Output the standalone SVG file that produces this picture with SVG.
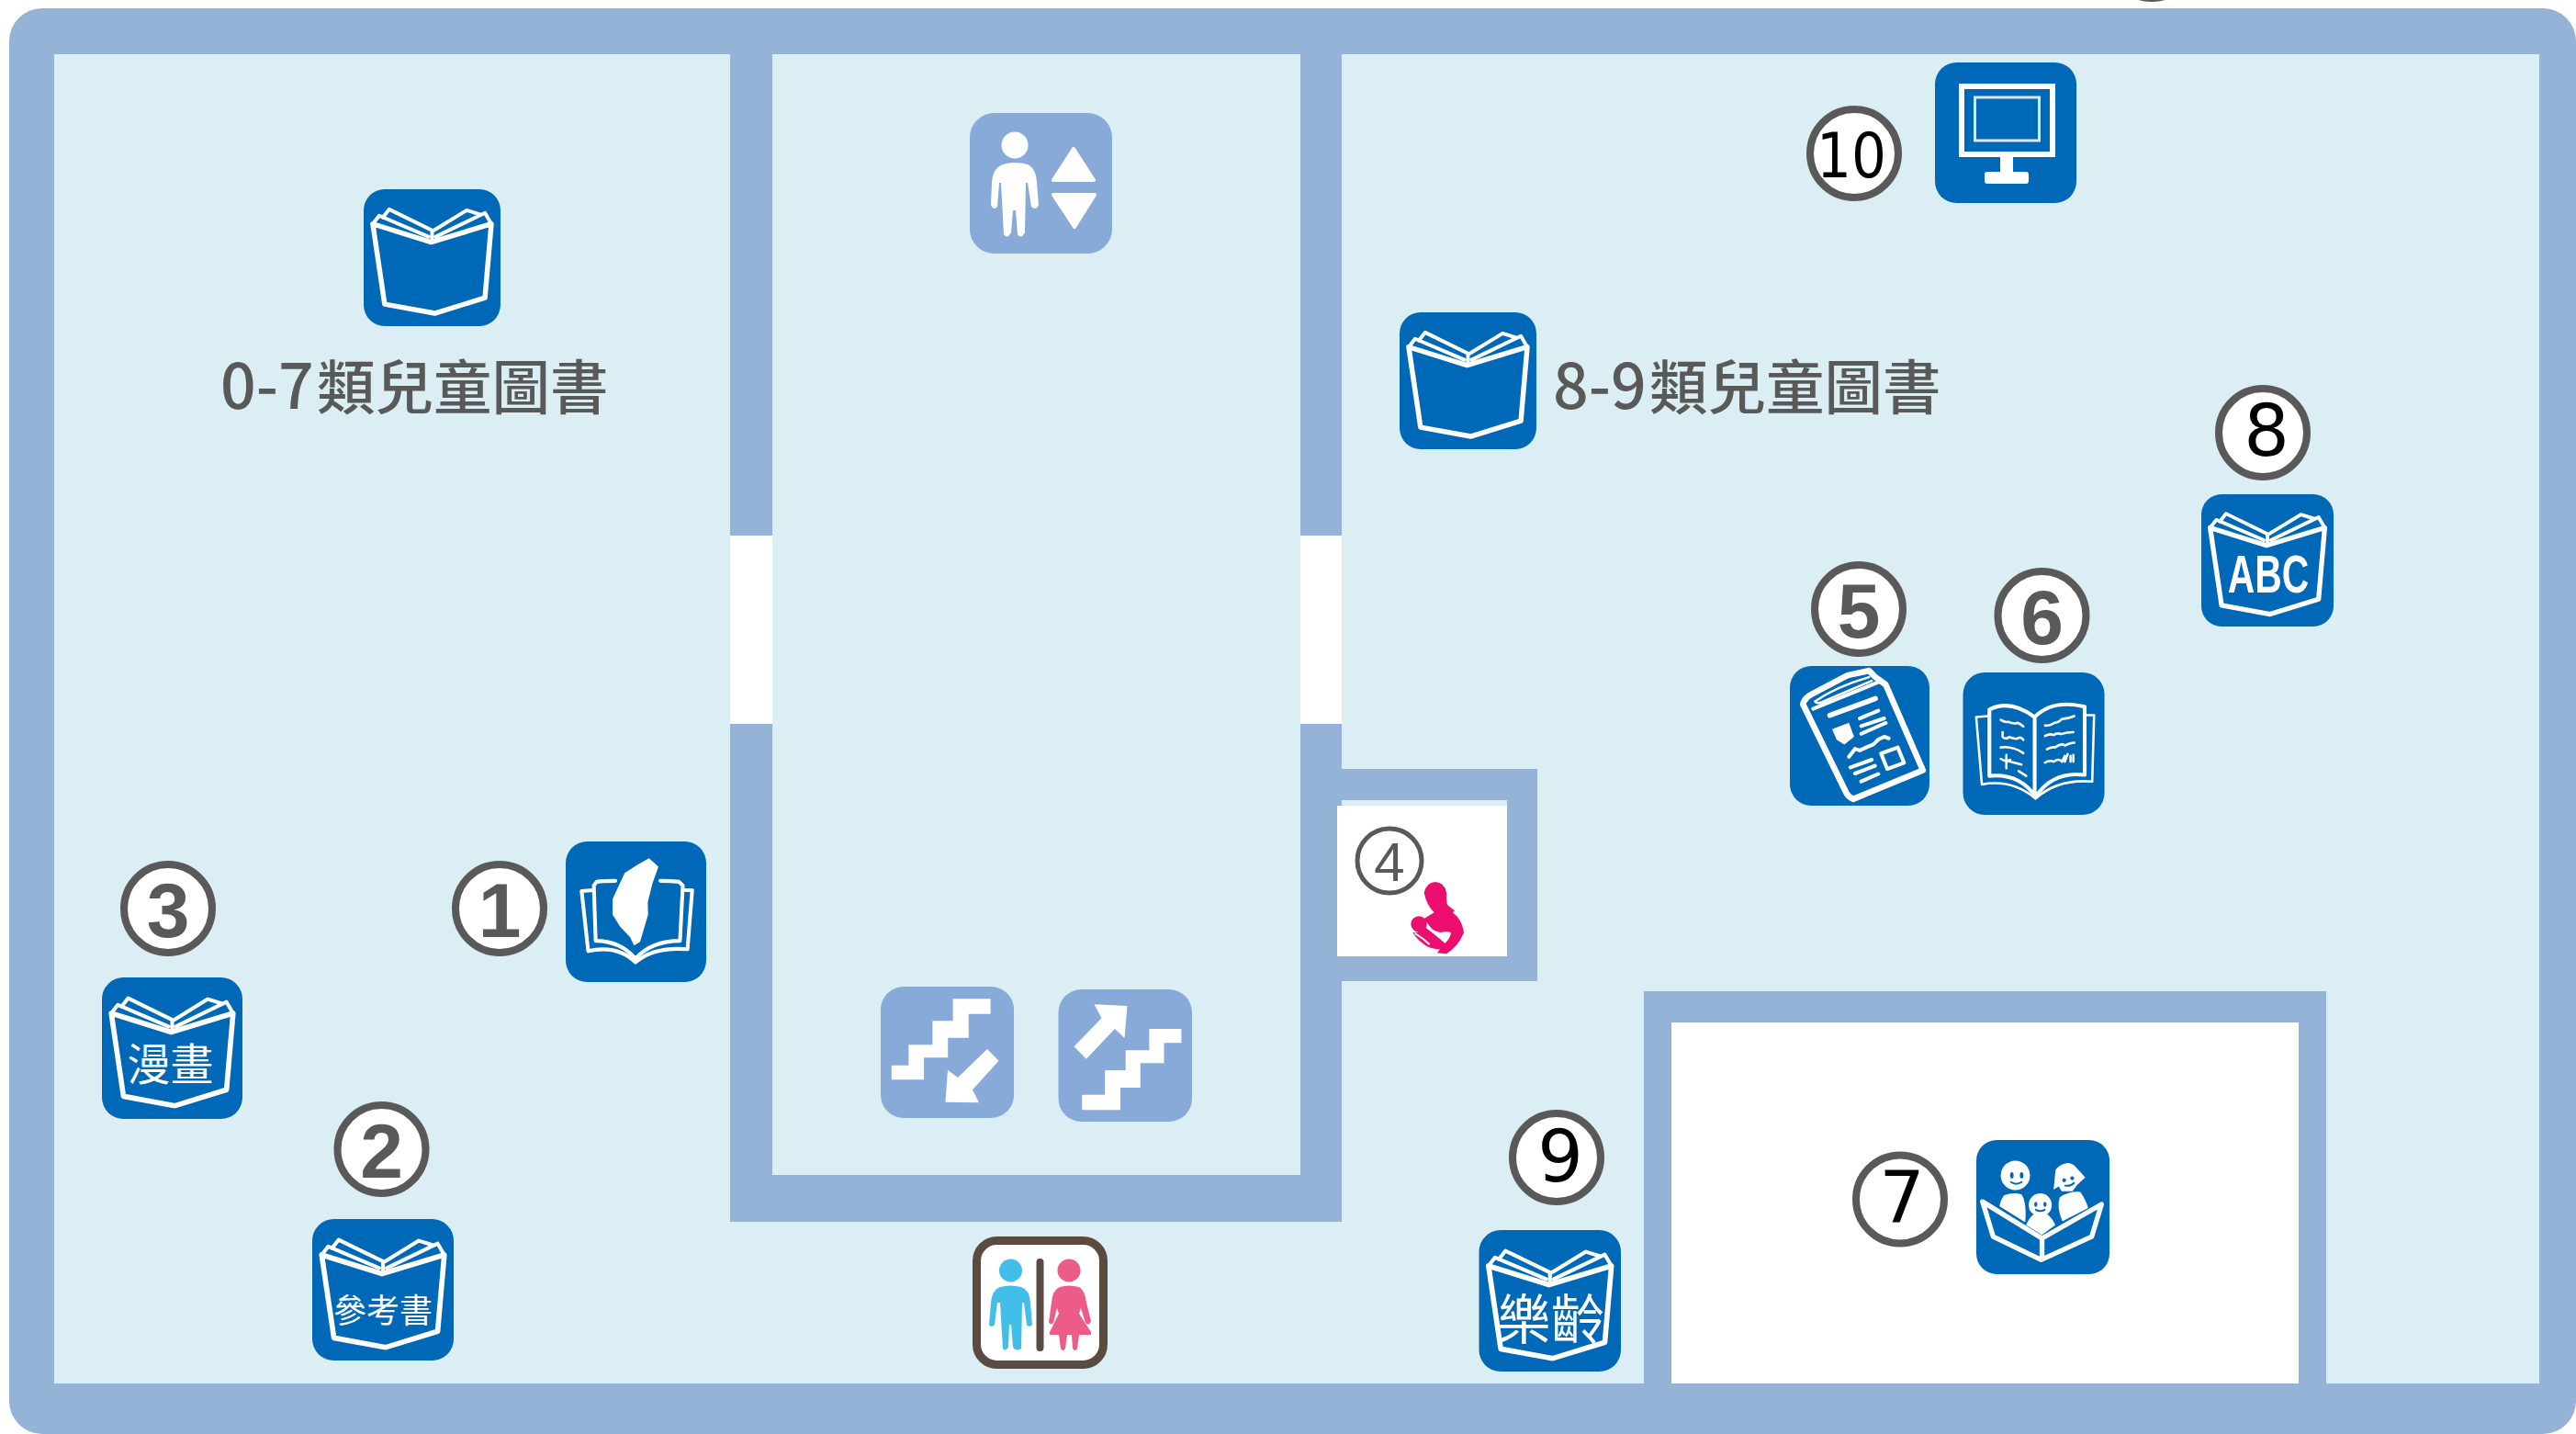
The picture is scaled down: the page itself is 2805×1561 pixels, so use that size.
<svg xmlns="http://www.w3.org/2000/svg" width="2805" height="1561" viewBox="0 0 2805 1561">
<style>
.wall{fill:#95B2D7}
.floor{fill:#DAEEF3}
.room{fill:#fff}
.tile{fill:#0069B7}
.tile2{fill:#88AAD9}
.line{fill:none;stroke:#fff;stroke-width:5.500;stroke-linejoin:round;stroke-linecap:round}
.mid{fill:none;stroke:#fff;stroke-width:4;stroke-linejoin:round;stroke-linecap:round}
.thin{fill:none;stroke:#fff;stroke-width:2.500;stroke-linejoin:round;stroke-linecap:round}
.solid{fill:#fff}
.eye{fill:#0069B7}
.smile{fill:none;stroke:#0069B7;stroke-width:2;stroke-linecap:round}
.ring{fill:#fff;stroke:#595959;stroke-width:8}
.dg{font-family:"Liberation Sans",Arial,sans-serif;font-weight:700;font-size:84px;fill:#595959;text-anchor:middle}
.dk{font-family:"DejaVu Sans",sans-serif;font-size:78px;fill:#000;text-anchor:middle}
.lab{font-family:"Noto Sans CJK TC","Noto Sans",sans-serif;font-size:63.500px;font-weight:500;fill:#595959}
.num{font-size:68px}
.bk{font-family:"Noto Sans CJK TC",sans-serif;fill:#fff;text-anchor:middle}
</style>
<defs>
<rect id="t" class="tile" width="150" height="150" rx="23"/>
<rect id="t2" class="tile2" width="150" height="150" rx="26"/>
<g id="book">
<path class="line" d="M10 38 L74 58 L140 38 L133 119 L78 136 L23 126 Z"/>
<path class="mid" d="M10 38 L17 29 L71 52 M21 31 L28 22 L75 45 L75 57 M140 38 L133 26 L79 52 M129 28 L113 23 L77 45"/>
</g>
</defs>

<rect class="wall" x="10" y="9" width="2795" height="1552" rx="36"/>
<rect class="floor" x="59" y="59" width="2706" height="1447"/>

<g id="walls">
<rect class="wall" x="795" y="59" width="46" height="1271"/>
<rect class="wall" x="1416" y="59" width="45" height="1271"/>
<rect class="wall" x="795" y="1279" width="666" height="51"/>
<rect class="room" x="795" y="583" width="46" height="205"/>
<rect class="room" x="1416" y="583" width="45" height="205"/>
<rect class="wall" x="1461" y="837" width="213" height="231"/>
<rect class="floor" x="1461" y="871" width="180" height="6"/>
<rect class="room" x="1456" y="877" width="185" height="164"/>
<rect class="wall" x="1790" y="1079" width="743" height="427"/>
<rect class="room" x="1820" y="1113" width="683" height="393"/>
</g>
<ellipse cx="2343" cy="-50" rx="48" ry="48" class="ring"/>

<g id="node-0-7">
<g transform="translate(396 206) scale(.993)"><use href="#t"/><use href="#book"/></g>
<text class="lab" x="240" y="445"><tspan class="num">0-7</tspan><tspan x="345">類兒童圖書</tspan></text>
</g>
<g id="node-8-9">
<g transform="translate(1524 340) scale(.993)"><use href="#t"/><use href="#book"/></g>
<text class="lab" x="1691" y="445"><tspan class="num">8-9</tspan><tspan x="1796">類兒童圖書</tspan></text>
</g>

<g id="node-elevator" transform="translate(1056 123)">
<use href="#t2" transform="scale(1.033 1.02)"/>
<circle class="solid" cx="49" cy="35" r="14.500"/>
<path class="solid" d="M36 56 Q49 52 63 56 Q72 60 73 76 L75 100 Q72 107 67 102 L63 76 L61 76 L60 130 Q56 138 52 132 L50 106 L47 106 L45 130 Q41 138 37 132 L34 76 L32 76 L30 102 Q26 107 23 100 L24 76 Q25 60 36 56Z"/>
<path class="solid" stroke="#fff" stroke-width="4" stroke-linejoin="round" d="M113 39 L91 73 L135 73 Z M91 89 L136 89 L114 124 Z"/>
</g>

<g id="node-stairs-down" transform="translate(959 1074)">
<use href="#t2" transform="scale(.967 .953)"/>
<path class="solid" d="M78.600 13.300H119.600V29.700H95.700V55.700H73.200V77.300H47.100V101.300H11.800V85.700H30.400V63.300H56.400V37.300H78.600Z"/>
<path class="solid" d="M70.400 125.700L107 126.300L100 112.300L128.600 80.700L116 68L84 99L73 90.700Z"/>
</g>
<g id="node-stairs-up" transform="translate(1152.500 1077)">
<use href="#t2" transform="scale(.97 .96)"/>
<path class="solid" d="M98.900 43H133.900V58.300H115V80.300H89.300V107H67.500V131.300H25.700V114.700H50.700V88H73.200V66.300H98.900Z"/>
<path class="solid" d="M75 18L39 16.300L47 31.300L17 62.300L30.400 75.700L61.400 43L72 53Z"/>
</g>

<g id="node-toilet" transform="translate(1059 1346)">
<rect x="4.500" y="4.500" width="138" height="135" rx="22" fill="#fff" stroke="#5B4A40" stroke-width="9"/>
<rect x="69.500" y="24" width="8" height="101" rx="4" fill="#5B4A40"/>
<g fill="#41BFE8"><circle cx="41.500" cy="37" r="12.500"/>
<path d="M30 55Q41 52 53 55Q62 58 63 72L65 96Q62 100 59 96L56 72L54 72L53 122Q47 126 44 120L42 96L40 96L39 120Q36 126 33 122L30 72L27 72L24 96Q20 100 18 96L20 72Q21 58 30 55Z"/></g>
<g fill="#EB5C87"><circle cx="105" cy="37" r="12.500"/>
<path d="M95 55Q105 52 116 55Q122 58 124 72L129 92Q127 98 123 94L118 78L116 84L129 104L129 107L116 107L114 122Q112 126 109 122L108 107L103 107L101 122Q98 126 96 122L94 107L84 107L84 104L94 84L92 78L88 94Q85 97 83 93L86 72Q87 58 95 55Z"/></g>
</g>

<g id="node-1">
<circle class="ring" cx="544" cy="989" r="48"/>
<text class="dg" x="544" y="1020">1</text>
<g transform="translate(616 916) scale(1.02)"><use href="#t"/>
<path class="mid" d="M53 42 Q40 42 33 43 L30 47 L32 106 Q58 106 74.500 125 Q92 106 122 106 L125 47 L121 43 Q112 42 101 42"/>
<path class="mid" stroke-width="3" d="M29 52 L17 53 L24 117 Q55 110 74.500 129 Q94 112 130 115 L135 52 L125 52"/>
<path class="solid" d="M89 18L99 27L92.500 45L87.600 65L88 78L79.400 107L73 111L68.600 102L58 91L50 78L50 61.500L63 33.700L78 24Z"/>
</g>
</g>

<g id="node-2">
<circle class="ring" cx="415.500" cy="1251" r="48"/>
<text class="dg" x="415.500" y="1282">2</text>
<g transform="translate(340 1327) scale(1.027)"><use href="#t"/><use href="#book"/>
<text class="bk" x="75" y="110" font-size="35">參考書</text></g>
</g>

<g id="node-3">
<circle class="ring" cx="183" cy="989" r="48"/>
<text class="dg" x="183" y="1020">3</text>
<g transform="translate(111 1064) scale(1.02 1.027)"><use href="#t"/><use href="#book"/>
<text class="bk" x="73" y="109" font-size="46">漫畫</text></g>
</g>

<g id="node-4">
<circle cx="1513" cy="937" r="35" fill="#fff" stroke="#595959" stroke-width="5"/>
<text x="1513" y="959" font-family="Liberation Sans,Arial,sans-serif" font-size="60" fill="#595959" text-anchor="middle">4</text>
<g transform="translate(1520 950) scale(.3333)" fill="#EC0E6E">
<path d="M92 65 Q100 32 128 30 Q160 32 165 65 Q165 95 168 105 L192 124 L185 130 Q215 150 222 195 Q205 240 165 265 L135 262 L150 240 Q180 215 180 195 Q165 190 145 195 Q120 190 110 175 L92 150 L125 130 Q100 105 92 65Z"/>
<circle cx="75" cy="168" r="26"/>
<path d="M95 178 Q125 200 160 230 L150 250 Q120 250 100 240 Q65 215 55 195 Q75 200 95 178Z"/>
<path d="M62 198 Q90 215 110 235" fill="none" stroke="#fff" stroke-width="6"/>
</g>
</g>

<g id="node-5">
<circle class="ring" cx="2024" cy="663" r="48"/>
<text class="dg" x="2024" y="694">5</text>
<g transform="translate(1949 725) scale(1.013)"><use href="#t"/>
<path fill="none" stroke="#fff" stroke-width="6.500" stroke-linejoin="round" d="M14 41 Q16 34 24 30 L62 10 L85 5 L92 12 L103 20 L143 112 L68 143 Q62 140 60 135 Z"/>
<path class="thin" d="M27 38 Q29 41 34 39 L88 16 M27 38 Q50 22 85 12"/>
<path class="mid" d="M25 46 L96 17"/>
<path class="line" d="M43 53 L92 35"/>
<path class="solid" d="M45.400 67.800L63.500 61L69 76L58.600 84.300L50.300 79.300Z"/>
<path class="mid" stroke-width="3" d="M75 56.300L95 48M76.700 64.500L101.300 56.300M76.700 72.800L103 61.200M63.500 97.500L70 89L75 90.700L82 87.500L90 84L95 79L101.300 76L106.300 77.700M98 94L116 87.500L122.700 104L104.600 110.600ZM65 109L88 100.700M70 115.500L91.500 107.300M76.700 124L95 116"/>
</g>
</g>

<g id="node-6">
<circle class="ring" cx="2223.500" cy="670" r="48"/>
<text class="dg" x="2223.500" y="701">6</text>
<g transform="translate(2137.500 732) scale(1.027 1.033)"><use href="#t"/>
<path class="mid" stroke-width="4.500" d="M28 39 Q50 28 76 47 Q95 28 129 36 L129 108 Q95 104 77 131 Q60 106 28 109 Z M76 47 V130"/>
<path class="thin" stroke-width="3" d="M27 46 L14 47 L20 118 Q52 112 77 133 Q100 112 137 115 L139 45 L129 45"/>
<path class="thin" stroke-width="2" d="M40 50q5 3 8 2q6 3 10 1q4 2 6 4M42 63v5q4 3 7 0q5 2 8 2q4 -3 7 1M40 79q12 -2 24 6M40 91q6 4 10 1m-4 -5v14m0 -8q8 2 16 4M59 104l8 5M87 56q6 0 10 -3q4 0 8 -4q6 0 13 -3M87 67q5 -3 9 -1q4 -3 8 -1q6 -2 13 -2M89 81q5 -3 9 -2q6 -5 10 -2q6 -3 10 -3M87 95q5 -3 9 -1q6 -4 9 0l3 -6m0 6l3 -8m3 2v6m3 -7v7"/>
</g>
</g>

<g id="node-7">
<circle class="ring" cx="2069" cy="1305.500" r="48"/>
<text class="dk" x="2071" y="1331">7</text>
<g transform="translate(2152 1241) scale(.967 .973)"><use href="#t"/>
<path class="line" d="M7 69 L74 110 L141 72 L130 108 L73 134 L19 108Z M74 110 V132"/>
<circle class="solid" cx="44" cy="39.500" r="16.500"/>
<ellipse class="eye" cx="40" cy="39.500" rx="2" ry="3.500"/><ellipse class="eye" cx="51" cy="39.500" rx="2" ry="3.500"/>
<path class="smile" d="M39 47Q45 51 51 47"/>
<path class="solid" d="M87 55.500L89.300 33.200Q94 27 103 25.700Q108 26 111.700 29.800L122.700 41.800L113.400 50.400L108.200 57.200L96.200 57.200L92.700 52Z"/>
<circle class="eye" cx="99" cy="45" r="2.200"/><circle class="eye" cx="108" cy="42.700" r="2.200"/>
<path class="smile" d="M100 51Q106 52 110 48"/>
<path class="solid" d="M31 62Q42 58 51 61Q57 70 55 92L26 74Q27 68 31 62Z"/>
<path class="solid" d="M94 64Q105 57 117 58Q123 66 126 76L97 91Q90 75 94 64Z"/>
<circle class="solid" cx="72" cy="72.600" r="13"/>
<ellipse class="eye" cx="67" cy="72" rx="1.800" ry="2.800"/><ellipse class="eye" cx="77.300" cy="72" rx="1.800" ry="2.800"/>
<path class="smile" d="M67 78Q72 81 77 78"/>
<path class="solid" d="M56 95Q60 86 65 83L80 83Q86 88 89 95L74 106Z"/>
</g>
</g>

<g id="node-8">
<circle class="ring" cx="2464" cy="471" r="48"/>
<text class="dk" x="2468" y="496">8</text>
<g transform="translate(2397 538) scale(.96)"><use href="#t"/><use href="#book"/>
<text class="bk" style="font-family:'Liberation Sans',sans-serif;font-weight:700" x="76" y="111" font-size="60" textLength="92" lengthAdjust="spacingAndGlyphs">ABC</text></g>
</g>

<g id="node-9">
<circle class="ring" cx="1695" cy="1260" r="48"/>
<text class="dk" x="1699" y="1286">9</text>
<g transform="translate(1610.500 1339) scale(1.03 1.027)"><use href="#t"/><use href="#book"/>
<text class="bk" x="76" y="116" font-size="57">樂齡</text></g>
</g>

<g id="node-10">
<circle class="ring" cx="2019" cy="167" r="48"/>
<text class="dk" x="2016" y="192.500" font-size="67" style="font-size:67px" textLength="76" lengthAdjust="spacingAndGlyphs">10</text>
<g transform="translate(2107 68)">
<use href="#t" transform="scale(1.027 1.02)"/>
<rect x="29" y="26" width="99" height="74" fill="none" stroke="#fff" stroke-width="6"/>
<rect x="43.500" y="38" width="70" height="47" fill="none" stroke="#DCE9F5" stroke-width="3"/>
<rect x="71" y="103" width="14" height="18" fill="#fff"/>
<rect x="54" y="119" width="48" height="13" rx="3" fill="#fff"/>
</g>
</g>
</svg>
